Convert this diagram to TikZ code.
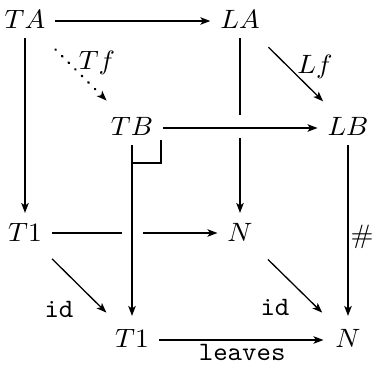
\documentclass[tikz,border=0pt]{standalone}
\usetikzlibrary{arrows.meta}

% all text is set at 10pt and enlarged uniformly
\newcommand{\mysz}[1]{\scalebox{2.75}[2.65]{#1}}

\tikzset{
  obj/.style={inner sep=0pt, outer sep=10pt},
  lab/.style={inner sep=0pt, outer sep=0pt, midway, anchor=center},
  arr/.style={-{Stealth[length=10pt,width=7.5pt,inset=2.5pt]}, line width=1.3pt},
  plain/.style={line width=1.3pt},
  dotarr/.style={arr, line cap=round, dash pattern=on 0.8pt off 8.5pt, line width=2.2pt}
}

\begin{document}
\begin{tikzpicture}[x=1pt, y=-1pt]
  \useasboundingbox (0,0) rectangle (372,364);

  % objects of the cube
  \node[obj] (TA) at (25,19)  {\mysz{$TA$}};
  \node[obj] (LA) at (240,19) {\mysz{$LA$}};
  \node[obj] (TB) at (132,126) {\mysz{$TB$}};
  \node[obj] (LB) at (348,126) {\mysz{$LB$}};
  \node[obj] (Tm) at (25,232)  {\mysz{$T1$}};
  \node[obj] (Nm) at (240,232) {\mysz{$N$}};
  \node[obj] (Tb) at (132,338) {\mysz{$T1$}};
  \node[obj] (Nb) at (348,338) {\mysz{$N$}};

  % back face
  \draw[arr] ([yshift=-2pt]TA.east) -- ([yshift=-2pt]LA.west);
  \draw[arr] (TA) -- (Tm);
  \draw[plain] (LA) -- ([yshift=11pt]LA |- TB);
  \draw[arr] ([yshift=-12pt]LA |- TB) -- (Nm);
  \draw[plain] ([yshift=-1pt]Tm.east) -- ([xshift=-10pt,yshift=-1pt]TB |- Tm);
  \draw[arr] ([xshift=11pt,yshift=-1pt]TB |- Tm) -- ([yshift=-1pt]Nm.west);

  % connecting edges
  \draw[dotarr, shorten <=16pt, shorten >=9pt] (TA) -- node[lab, xshift=18.5pt, yshift=9.5pt] {\mysz{$Tf$}} (TB);
  \draw[arr, shorten <=13pt, shorten >=8pt] (LA) -- node[lab, xshift=21pt, yshift=5.5pt] {\mysz{$Lf$}} (LB);
  \draw[arr, shorten <=11pt, shorten >=9pt] (Tm) -- node[lab, xshift=-19.5pt, yshift=-24pt] {\mysz{\texttt{id}}} (Tb);
  \draw[arr, shorten <=12pt, shorten >=9pt] (Nm) -- node[lab, xshift=-19pt, yshift=-22pt] {\mysz{\texttt{id}}} (Nb);

  % front face
  \draw[arr] ([yshift=-2pt]TB.east) -- ([yshift=-2pt]LB.west);
  \draw[arr, shorten >=3pt] (TB) -- (Tb);
  \draw[arr, shorten >=3pt] (LB) -- node[lab, xshift=14pt, yshift=-5pt] {\mysz{$\#$}} (Nb);
  \draw[arr, shorten >=2pt] ([yshift=-2pt]Tb.east) -- node[lab, yshift=-12pt] {\mysz{\texttt{leaves}}} ([yshift=-2pt]Nb.west);

  % pullback corner
  \draw[plain] ([xshift=29pt,yshift=-14pt]TB.center) -- ++(0,23) -- ++(-28,0);
\end{tikzpicture}
\end{document}
